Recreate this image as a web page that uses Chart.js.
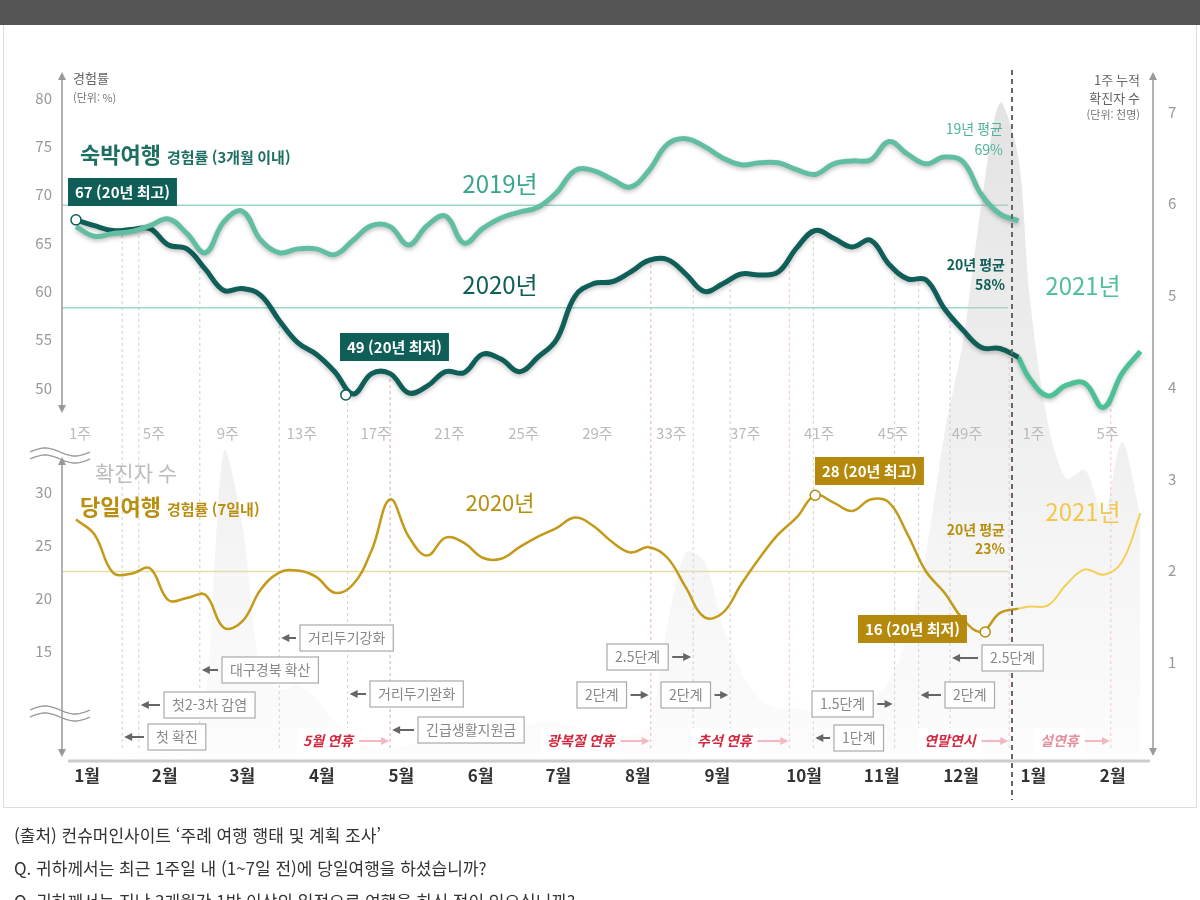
<!DOCTYPE html>
<html lang="ko">
<head>
<meta charset="UTF-8">
<title>숙박여행 / 당일여행 경험률과 확진자 수</title>
<script src="https://cdn.jsdelivr.net/npm/chart.js"></script>
<style>
  body { margin: 0; background: #fff; font-family: "Noto Sans CJK KR", "Noto Sans", sans-serif; }
  #wrap { position: relative; width: 1200px; height: 900px; overflow: hidden; }
  #banner { position: absolute; left: 0; top: 0; width: 1200px; height: 25px; background: #555; }
  #frame { position: absolute; left: 3px; top: 25px; width: 1192px; height: 782px; border: 1px solid #ddd; border-top: none; }
  canvas { position: absolute; left: 0; top: 0; }
  #foot { position: absolute; left: 14px; top: 818px; font-size: 17px; color: #333; line-height: 33px; }
</style>
</head>
<body>
<div id="wrap">
  <div id="banner"></div>
  <div id="frame"></div>
  <canvas id="c" width="1200" height="900"></canvas>
  <div id="foot">
    (출처) 컨슈머인사이트 ‘주례 여행 행태 및 계획 조사’<br>
    Q. 귀하께서는 최근 1주일 내 (1~7일 전)에 당일여행을 하셨습니까?<br>
    Q. 귀하께서는 지난 3개월간 1박 이상의 일정으로 여행을 하신 적이 있으십니까?
  </div>
</div>
<script>
// 주차 (2020년 1~52주)
const weeks = [1,2,3,4,5,6,7,8,9,10,11,12,13,14,15,16,17,18,19,20,21,22,23,24,25,26,
  27,28,29,30,31,32,33,34,35,36,37,38,39,40,41,42,43,44,45,46,47,48,49,50,51,52];
// 2021년 주차
const weeks2021 = [1,2,3,4,5,6,7];

// 숙박여행 경험률 (%)
const stay2019 = [66.7,65.7,66.0,66.2,66.8,67.5,66.0,64.0,67.2,68.3,65.3,64.0,64.4,64.4,63.8,65.3,66.8,66.7,64.8,66.8,
  67.8,65.0,66.5,67.6,68.2,68.7,70.2,72.5,72.5,71.6,70.8,72.5,75.2,75.8,75.0,73.8,73.1,73.3,73.3,72.6,
  72.1,73.2,73.5,73.6,75.5,74.2,73.2,73.9,73.4,70.0,68.0,67.3];
const stay2020 = [67.4,66.8,66.3,66.4,66.5,64.8,64.4,62.3,60.1,60.3,59.6,57.0,54.7,53.5,51.7,49.4,51.5,51.5,49.5,50.2,
  51.7,51.6,53.5,53.0,51.7,53.2,55.0,59.5,60.8,61.0,62.0,63.2,63.3,61.8,60.0,60.8,61.8,61.7,62.0,64.5,
  66.3,65.5,64.6,65.3,62.8,61.3,61.2,58.2,56.0,54.2,54.1,53.2];
const stay2021 = [51.0,49.2,50.3,50.5,48.0,51.5,53.8];

// 당일여행 경험률 (%)
const day2020 = [27.4,26.0,22.4,22.3,22.8,19.8,20.0,20.3,17.2,17.8,20.8,22.4,22.6,22.0,20.5,21.3,24.5,29.3,25.8,24.0,
  25.7,25.2,23.8,23.7,24.8,25.8,26.6,27.6,26.8,25.3,24.3,24.8,23.8,21.0,18.2,18.6,21.3,23.8,26.0,27.6,
  29.7,29.0,28.2,29.3,29.0,26.0,22.5,20.5,18.0,16.8,18.6,19.0];
const day2021 = [19.2,19.3,21.3,22.7,22.2,23.4,28.0];

// 1주 누적 확진자 수 (천명)
const cases2020 = [0,0,0,0.01,0.02,0.01,0.01,0.6,3.3,2.5,0.9,0.7,0.75,0.6,0.35,0.15,0.07,0.05,0.1,0.15,
  0.2,0.3,0.3,0.3,0.3,0.35,0.35,0.3,0.25,0.25,0.2,0.3,1.4,2.2,2.1,1.4,0.9,0.6,0.5,0.5,
  0.45,0.5,0.6,0.6,0.8,1.3,2.2,3.5,4.5,6.0,7.1,6.5];
const cases2021 = [5.0,3.6,3.0,3.1,2.6,3.4,2.6];

// 평균
const avgStay2019 = 68.9, avgStay2020 = 58.3, avgDay2020 = 22.5;

// 축 눈금
const topTicks = [50,55,60,65,70,75,80];
const botTicks = [15,20,25,30];
const rightTicks = [1,2,3,4,5,6,7];
const weekTicks = ['1주','5주','9주','13주','17주','21주','25주','29주','33주','37주','41주','45주','49주'];
const weekTicks2021 = ['1주','5주'];
const months = ['1월','2월','3월','4월','5월','6월','7월','8월','9월','10월','11월','12월','1월','2월'];
const monthWeeks = [1.6,5.8,10.0,14.3,18.6,22.9,27.1,31.4,35.7,40.4,44.6,48.9,52.8,57.1];

// 2021 주차 -> x 위치
const off2021 = 51.6;
const x2021 = k => off2021 + k;

const pts = (xs, ys) => ys.map((v, i) => ({x: xs[i], y: v}));
const last = a => a[a.length - 1];

// 사건 주석 (주차, 상자 위치)
const events = [
  {t:'첫 확진', w:3.5, bx:148, by:737, dir:'L', kind:'box'},
  {t:'첫2-3차 감염', w:4.4, bx:164, by:705, dir:'L', kind:'box'},
  {t:'대구경북 확산', w:7.7, bx:222, by:670, dir:'L', kind:'box'},
  {t:'거리두기강화', w:12.0, bx:300, by:638, dir:'L', kind:'box'},
  {t:'거리두기완화', w:15.7, bx:370, by:694, dir:'L', kind:'box'},
  {t:'긴급생활지원금', w:18.0, bx:418, by:730, dir:'L', kind:'box'},
  {t:'5월 연휴', w:18.0, bx:303, by:741, dir:'R', kind:'holiday'},
  {t:'2단계', w:32.1, bx:577, by:695, dir:'R', kind:'box'},
  {t:'2.5단계', w:34.4, bx:607, by:657, dir:'R', kind:'box'},
  {t:'2단계', w:36.4, bx:661, by:695, dir:'R', kind:'box'},
  {t:'광복절 연휴', w:32.1, bx:547, by:741, dir:'R', kind:'holiday'},
  {t:'추석 연휴', w:39.6, bx:697, by:741, dir:'R', kind:'holiday'},
  {t:'1.5단계', w:45.3, bx:812, by:704, dir:'R', kind:'box'},
  {t:'1단계', w:40.9, bx:834, by:738, dir:'L', kind:'box'},
  {t:'2단계', w:46.6, bx:945, by:695, dir:'L', kind:'box'},
  {t:'2.5단계', w:48.3, bx:982, by:658, dir:'L', kind:'box'},
  {t:'연말연시', w:51.5, bx:924, by:741, dir:'R', kind:'holiday'},
  {t:'설연휴', w:57.0, bx:1040, by:741, dir:'R', kind:'holiday', pale:true}
];

const FONT = '"Noto Sans CJK KR", "Noto Sans", sans-serif';

function txt(ctx, s, x, y, size, color, opt) {
  opt = opt || {};
  ctx.font = (opt.italic ? 'italic ' : '') + (opt.weight || 400) + ' ' + size + 'px ' + FONT;
  ctx.fillStyle = color;
  ctx.textAlign = opt.align || 'left';
  ctx.textBaseline = 'middle';
  ctx.fillText(s, x, y);
  return ctx.measureText(s).width;
}

function arrow(ctx, x1, x2, y, color) {
  ctx.strokeStyle = color; ctx.fillStyle = color; ctx.lineWidth = 2; ctx.setLineDash([]);
  ctx.beginPath(); ctx.moveTo(x1, y); ctx.lineTo(x2, y); ctx.stroke();
  const d = x2 > x1 ? 1 : -1;
  ctx.beginPath(); ctx.moveTo(x2 + d * 2, y); ctx.lineTo(x2 - d * 6, y - 4); ctx.lineTo(x2 - d * 6, y + 4); ctx.closePath(); ctx.fill();
}

function interp(xs, ys, w) {
  for (let i = 0; i < xs.length - 1; i++) {
    if (w >= xs[i] && w <= xs[i + 1]) {
      const t = (w - xs[i]) / (xs[i + 1] - xs[i]);
      return ys[i] + t * (ys[i + 1] - ys[i]);
    }
  }
  return last(ys);
}

function labelBox(ctx, s, x, y, bg) {
  ctx.font = '700 15px ' + FONT;
  const w = ctx.measureText(s).width + 14;
  ctx.fillStyle = bg; ctx.fillRect(x, y - 14, w, 28);
  txt(ctx, s, x + 7, y, 15, '#fff', {weight: 700});
}

function marker(ctx, x, y, color) {
  ctx.setLineDash([]);
  ctx.beginPath(); ctx.arc(x, y, 5, 0, Math.PI * 2);
  ctx.fillStyle = '#fff'; ctx.fill(); ctx.lineWidth = 1.5; ctx.strokeStyle = color; ctx.stroke();
}

function wave(ctx, x, y) {
  ctx.strokeStyle = '#999'; ctx.lineWidth = 1.3; ctx.setLineDash([]);
  for (const dy of [0, 7]) {
    ctx.beginPath();
    for (let i = 0; i <= 30; i++) {
      const px = x + i * 2;
      const py = y + dy + Math.sin(i / 30 * Math.PI * 2) * -4;
      i ? ctx.lineTo(px, py) : ctx.moveTo(px, py);
    }
    ctx.stroke();
  }
}

function caseFill(context) {
  const {ctx, chartArea} = context.chart;
  if (!chartArea) return 'rgba(210,210,210,0.3)';
  const g = ctx.createLinearGradient(0, chartArea.top, 0, chartArea.bottom);
  g.addColorStop(0, 'rgba(190,190,190,0.45)');
  g.addColorStop(0.6, 'rgba(210,210,210,0.3)');
  g.addColorStop(1, 'rgba(235,235,235,0.15)');
  return g;
}

const under = {
  id: 'under',
  beforeDatasetsDraw(chart) {
    const {ctx, scales: {x, yT, yB}} = chart;
    ctx.save();
    // 사건 세로 점선
    ctx.lineWidth = 1; ctx.setLineDash([3, 3]);
    for (const e of events) {
      const px = x.getPixelForValue(e.w);
      const topV = e.w <= 52 ? interp(weeks, stay2020, e.w) : interp(weeks2021.map(x2021), stay2021, e.w);
      ctx.strokeStyle = e.kind === 'holiday' ? '#f2c0c8' : '#cfcfcf';
      ctx.beginPath(); ctx.moveTo(px, 748); ctx.lineTo(px, yT.getPixelForValue(topV) + 4); ctx.stroke();
    }
    // 평균선
    ctx.setLineDash([]);
    const x0 = 62, x1 = 1008;
    ctx.lineWidth = 1.5;
    ctx.strokeStyle = '#9bd8ca';
    for (const v of [avgStay2019, avgStay2020]) {
      const py = yT.getPixelForValue(v);
      ctx.beginPath(); ctx.moveTo(x0, py); ctx.lineTo(x1, py); ctx.stroke();
    }
    ctx.strokeStyle = '#e6dda6';
    const py = yB.getPixelForValue(avgDay2020);
    ctx.beginPath(); ctx.moveTo(x0, py); ctx.lineTo(x1, py); ctx.stroke();
    ctx.restore();
  },
  beforeDatasetDraw(chart, args) {
    if (args.meta._dataset.shadow) {
      chart.ctx.save();
      chart.ctx.shadowColor = 'rgba(0,0,0,0.25)';
      chart.ctx.shadowBlur = 4; chart.ctx.shadowOffsetY = 2;
    }
  },
  afterDatasetDraw(chart, args) {
    if (args.meta._dataset.shadow) chart.ctx.restore();
  }
};

const over = {
  id: 'over',
  afterDatasetsDraw(chart) {
    const {ctx, scales: {x, yT, yB, yR}} = chart;
    ctx.save();
    // 축
    ctx.strokeStyle = '#999'; ctx.lineWidth = 1.5; ctx.setLineDash([]);
    ctx.beginPath(); ctx.moveTo(62, 78); ctx.lineTo(62, 408); ctx.stroke();
    ctx.beginPath(); ctx.moveTo(62, 462); ctx.lineTo(62, 752); ctx.stroke();
    ctx.beginPath(); ctx.moveTo(1153, 78); ctx.lineTo(1153, 750); ctx.stroke();
    ctx.fillStyle = '#999';
    const tri = (px, py, up) => { ctx.beginPath(); ctx.moveTo(px, py); ctx.lineTo(px - 4, py + (up ? 8 : -8)); ctx.lineTo(px + 4, py + (up ? 8 : -8)); ctx.closePath(); ctx.fill(); };
    tri(62, 72, true); tri(62, 413, false); tri(62, 457, true); tri(62, 757, false); tri(1153, 72, true); tri(1153, 756, false);
    ctx.strokeStyle = '#ccc'; ctx.lineWidth = 3;
    ctx.beginPath(); ctx.moveTo(68, 761); ctx.lineTo(1150, 761); ctx.stroke();
    wave(ctx, 30, 452); wave(ctx, 30, 710);

    // 눈금
    for (const t of topTicks) txt(ctx, String(t), 52, yT.getPixelForValue(t), 15, '#999', {align: 'right'});
    for (const t of botTicks) txt(ctx, String(t), 52, yB.getPixelForValue(t), 15, '#999', {align: 'right'});
    for (const t of rightTicks) txt(ctx, String(t), 1168, yR.getPixelForValue(t), 15, '#999', {align: 'left'});
    weekTicks.forEach((s, i) => txt(ctx, s, x.getPixelForValue(1 + i * 4) + 4, 433, 15, '#bbb', {align: 'center'}));
    weekTicks2021.forEach((s, i) => txt(ctx, s, x.getPixelForValue(x2021(1 + i * 4)) + 4, 433, 15, '#bbb', {align: 'center'}));
    months.forEach((s, i) => txt(ctx, s, x.getPixelForValue(monthWeeks[i]), 776, 17, '#333', {weight: 700, align: 'center'}));

    // 2020/2021 구분선
    ctx.strokeStyle = '#666'; ctx.lineWidth = 2; ctx.setLineDash([5, 4]);
    ctx.beginPath(); ctx.moveTo(1012, 70); ctx.lineTo(1012, 800); ctx.stroke();
    ctx.setLineDash([]);

    // 축 제목
    txt(ctx, '경험률', 73, 78, 13, '#666');
    txt(ctx, '(단위: %)', 73, 98, 11, '#777');
    txt(ctx, '1주 누적', 1140, 80, 13, '#666', {align: 'right'});
    txt(ctx, '확진자 수', 1140, 98, 13, '#666', {align: 'right'});
    txt(ctx, '(단위: 천명)', 1140, 115, 11, '#777', {align: 'right'});

    // 숙박여행 제목
    const w1 = txt(ctx, '숙박여행', 80, 155, 22, '#1d6f62', {weight: 700});
    txt(ctx, '경험률 (3개월 이내)', 86 + w1, 157, 15, '#1d6f62', {weight: 700});
    txt(ctx, '2019년', 500, 184, 24, '#3aa58f', {align: 'center'});
    txt(ctx, '2020년', 500, 285, 24, '#0f5e57', {align: 'center'});
    txt(ctx, '2021년', 1083, 286, 24, '#4fc09a', {align: 'center'});
    txt(ctx, '19년 평균', 1003, 129, 14, '#4fb39c', {align: 'right'});
    txt(ctx, '69%', 1003, 150, 14, '#4fb39c', {align: 'right'});
    txt(ctx, '20년 평균', 1005, 265, 14, '#0f5e57', {align: 'right', weight: 700});
    txt(ctx, '58%', 1005, 285, 14, '#0f5e57', {align: 'right', weight: 700});
    labelBox(ctx, '67 (20년 최고)', 68, 192, '#0f5e57');
    labelBox(ctx, '49 (20년 최저)', 340, 347, '#0f5e57');
    marker(ctx, x.getPixelForValue(1), yT.getPixelForValue(stay2020[0]), '#0f5e57');
    marker(ctx, x.getPixelForValue(15.6), yT.getPixelForValue(49.3), '#0f5e57');

    // 당일여행
    txt(ctx, '확진자 수', 95, 473, 21, '#bdbdbd');
    const w2 = txt(ctx, '당일여행', 80, 507, 22, '#b98f10', {weight: 700});
    txt(ctx, '경험률 (7일내)', 86 + w2, 509, 15, '#b98f10', {weight: 700});
    txt(ctx, '2020년', 500, 503, 22, '#b98f10', {align: 'center'});
    txt(ctx, '2021년', 1083, 512, 24, '#f2c94c', {align: 'center'});
    txt(ctx, '20년 평균', 1005, 530, 14, '#b98f10', {align: 'right', weight: 700});
    txt(ctx, '23%', 1005, 549, 14, '#b98f10', {align: 'right', weight: 700});
    labelBox(ctx, '28 (20년 최고)', 815, 471, '#b58a0c');
    labelBox(ctx, '16 (20년 최저)', 858, 629, '#b58a0c');
    marker(ctx, x.getPixelForValue(41), yB.getPixelForValue(day2020[40]), '#b58a0c');
    marker(ctx, x.getPixelForValue(50.2), yB.getPixelForValue(day2020[49]), '#b58a0c');

    // 사건 상자
    for (const e of events) {
      const lx = x.getPixelForValue(e.w);
      if (e.kind === 'box') {
        ctx.font = '400 14px ' + FONT;
        const bw = ctx.measureText(e.t).width + 16;
        ctx.fillStyle = '#fff'; ctx.fillRect(e.bx, e.by - 13, bw, 26);
        ctx.strokeStyle = '#aaa'; ctx.lineWidth = 1.2; ctx.strokeRect(e.bx, e.by - 13, bw, 26);
        txt(ctx, e.t, e.bx + 8, e.by, 14, '#888');
        if (e.dir === 'L') arrow(ctx, e.bx - 4, lx + 4, e.by, '#666');
        else arrow(ctx, e.bx + bw + 4, lx - 4, e.by, '#666');
      } else {
        ctx.font = 'italic 700 14px ' + FONT;
        const bw = ctx.measureText(e.t).width;
        ctx.fillStyle = '#fff'; ctx.fillRect(e.bx - 6, e.by - 13, bw + 12, 26);
        txt(ctx, e.t, e.bx, e.by, 14, e.pale ? '#e58f9d' : '#d2283f', {weight: 700, italic: true});
        arrow(ctx, e.bx + bw + 6, lx - 3, e.by, '#f3b8c1');
      }
    }
    ctx.restore();
  }
};

new Chart(document.getElementById('c'), {
  type: 'line',
  data: {
    datasets: [
      {label: '확진자 수', data: pts(weeks, cases2020).concat(pts(weeks2021.map(x2021), cases2021)), yAxisID: 'yR',
       borderWidth: 0, backgroundColor: caseFill, fill: {value: 0}, pointRadius: 0, tension: 0.3, order: 10},
      {label: '숙박 2019', data: pts(weeks, stay2019), yAxisID: 'yT', borderColor: '#62bea3', borderWidth: 5,
       pointRadius: 0, tension: 0.4, shadow: true},
      {label: '숙박 2020', data: pts(weeks, stay2020), yAxisID: 'yT', borderColor: '#0f5e57', borderWidth: 5,
       pointRadius: 0, tension: 0.4, shadow: true},
      {label: '숙박 2021', data: [{x: 52, y: last(stay2020)}].concat(pts(weeks2021.map(x2021), stay2021)), yAxisID: 'yT',
       borderColor: '#4cc196', borderWidth: 5, pointRadius: 0, tension: 0.4, shadow: true},
      {label: '당일 2020', data: pts(weeks, day2020), yAxisID: 'yB', borderColor: '#c49a1a', borderWidth: 2.5,
       pointRadius: 0, tension: 0.4},
      {label: '당일 2021', data: [{x: 52, y: last(day2020)}].concat(pts(weeks2021.map(x2021), day2021)), yAxisID: 'yB',
       borderColor: '#f4cf5a', borderWidth: 2, pointRadius: 0, tension: 0.4}
    ]
  },
  options: {
    responsive: false,
    animation: false,
    layout: {padding: {left: 57.5, right: 40, top: 70, bottom: 140}},
    plugins: {legend: {display: false}, tooltip: {enabled: false}},
    scales: {
      x: {type: 'linear', min: 0, max: 59.66, display: false},
      yT: {type: 'linear', min: 11.54, max: 82.9, display: false},
      yB: {type: 'linear', min: 4.72, max: 69.81, display: false},
      yR: {type: 'linear', min: -0.066, max: 7.458, display: false, position: 'right'}
    }
  },
  plugins: [under, over]
});
</script>
</body>
</html>
